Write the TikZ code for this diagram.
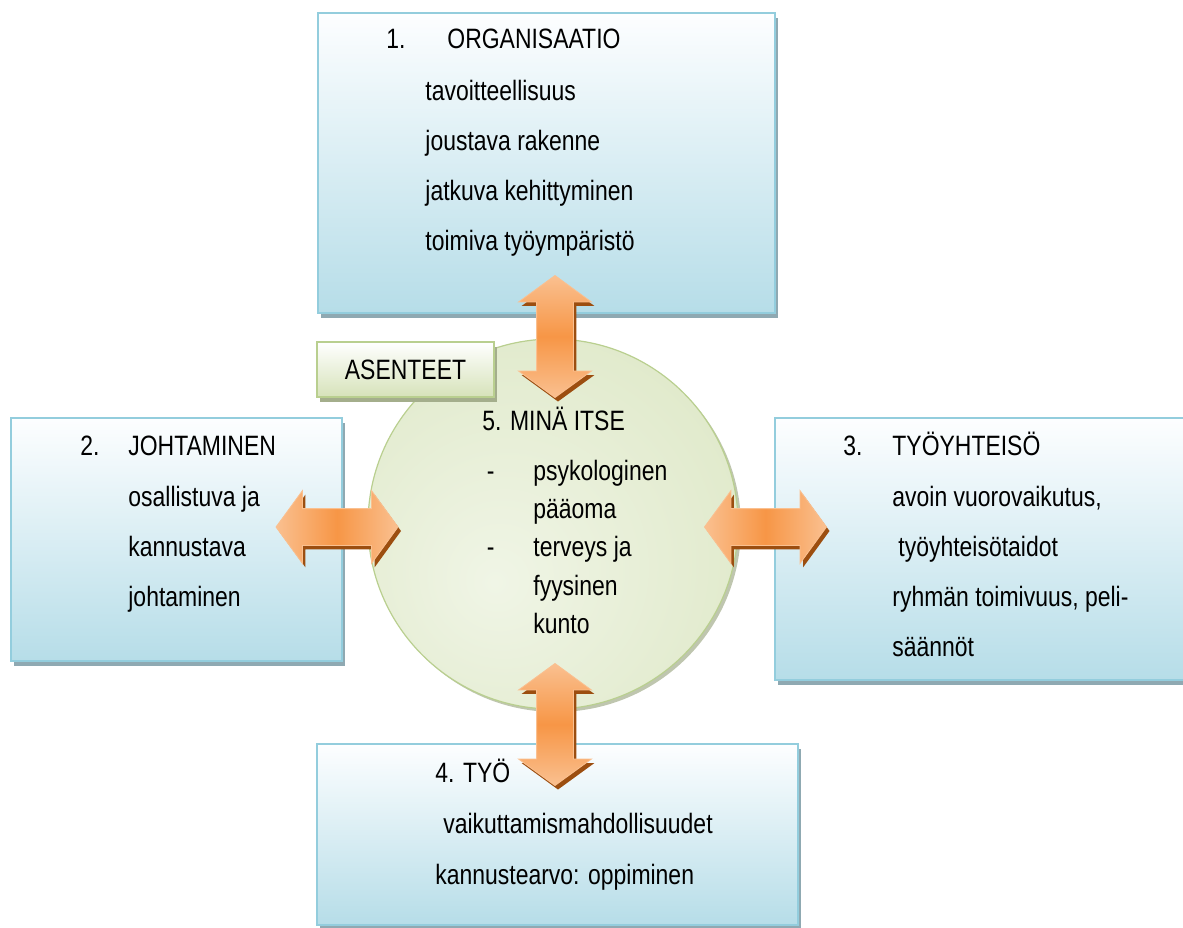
\documentclass[tikz,border=0pt]{standalone}
\usepackage{fontspec}
\setmainfont{Liberation Sans}[FakeStretch=0.82]
\usetikzlibrary{shapes.arrows,shadows}

\definecolor{boxtop}{HTML}{FDFEFF}
\definecolor{boxbottom}{HTML}{B6DDE8}
\definecolor{boxline}{HTML}{93CDDD}
\definecolor{boxshadow}{HTML}{8FA9B2}
\definecolor{greenlight}{HTML}{F0F5E6}
\definecolor{greendark}{HTML}{CCDBA8}
\definecolor{greenline}{HTML}{B9CF8F}
\definecolor{greenshadow}{HTML}{A4AE8C}
\definecolor{arroworange}{HTML}{F79646}
\definecolor{arrowlight}{HTML}{FAC090}
\definecolor{arrowshadow}{HTML}{9C4E10}

\pgfdeclareradialshading{minashading}{\pgfpoint{-8bp}{-8bp}}{color(0bp)=(greenlight); color(30bp)=(greenlight!60!greendark); color(58bp)=(greendark); color(70bp)=(greendark)}

\begin{document}
\begin{tikzpicture}[
    x=0.5pt, y=-0.5pt,
    box/.style={rectangle, draw=boxline, line width=1pt, top color=boxtop, bottom color=boxbottom,
        drop shadow={shadow xshift=1.5pt, shadow yshift=-2.5pt, fill=boxshadow, opacity=1}},
    greenbox/.style={rectangle, draw=greenline, line width=1pt, top color=white, bottom color=greendark!80,
        drop shadow={shadow xshift=1.5pt, shadow yshift=-2.5pt, fill=greenshadow, opacity=1}},
    dblarrow/.style={double arrow, double arrow head extend=9pt, double arrow tip angle=108,
        minimum height=61pt, inner xsep=9pt, inner ysep=9pt, draw=arrowlight, line width=0.4pt,
        drop shadow={shadow xshift=1.5pt, shadow yshift=-2pt, fill=arrowshadow, opacity=1}},
    harrow/.style={dblarrow, left color=arrowlight, right color=arrowlight, middle color=arroworange},
    varrow/.style={dblarrow, shape border rotate=90, top color=arrowlight, bottom color=arrowlight, middle color=arroworange},
    title/.style={anchor=base west, inner sep=0pt, font=\fontsize{14}{17}\selectfont},
    body/.style={anchor=north west, inner sep=0pt, align=left, font=\fontsize{14}{25}\selectfont}
]
\useasboundingbox (0,0) rectangle (1183,927);
\clip (0,0) rectangle (1183,927);

% Laatikot
\node[box, minimum width=228.5pt, minimum height=150pt] (org) at (546.5,163) {};
\node[box, minimum width=165.5pt, minimum height=121.5pt] (joht) at (176.5,539.5) {};
\node[box, minimum width=207.5pt, minimum height=131pt] (tyoy) at (982.5,549) {};
\node[box, minimum width=240.5pt, minimum height=90.5pt] (tyo) at (557.5,834.5) {};

% Minä itse
\node[circle, draw=greenline, line width=0.6pt, minimum size=185pt, inner sep=0pt, shading=minashading,
    drop shadow={shadow xshift=1.5pt, shadow yshift=-1.5pt, fill=greenshadow!70, opacity=1}] (mina) at (553,524) {};

% Asenteet
\node[greenbox, minimum width=88.5pt, minimum height=27.5pt, font=\fontsize{14}{17}\selectfont] (asenteet) at (405.5,369.5) {ASENTEET};

% Nuolet
\node[varrow] (orgarrow) at (555,336.5) {};
\node[varrow] (tyoarrow) at (555,724.5) {};
\node[harrow] (johtarrow) at (337,527) {};
\node[harrow] (tyoyarrow) at (765.5,527) {};

% 1. Organisaatio
\node[title] (orgtitle) at (386,48) {\makebox[30.5pt][l]{1.}ORGANISAATIO};
\node[body] (orgtext) at (425,65) {\strut tavoitteellisuus\\joustava rakenne\\jatkuva kehittyminen\\toimiva työympäristö};

% 2. Johtaminen
\node[title] (johttitle) at (80,455) {\makebox[24pt][l]{2.}JOHTAMINEN};
\node[body] (johttext) at (128,471) {\strut osallistuva ja\\kannustava\\johtaminen};

% 3. Työyhteisö
\node[title] (tyoytitle) at (843,455) {\makebox[24.5pt][l]{3.}TYÖYHTEISÖ};
\node[body] (tyoytext) at (892,471) {\strut avoin vuorovaikutus,\\\hspace*{3pt}työyhteisötaidot\\ryhmän toimivuus, peli-\\säännöt};

% 4. Työ
\node[title] (tyotitle) at (435,782) {4. TYÖ};
\node[body, font=\fontsize{14}{25.5}\selectfont] (tyotext) at (435,797) {\strut\hspace*{4pt}vaikuttamismahdollisuudet\\kannustearvo: oppiminen};

% 5. Minä itse
\node[title] (minatitle) at (482,430) {5. MINÄ ITSE};
\node[body, font=\fontsize{14}{19.1}\selectfont] (minatext) at (533,453.3) {\strut\llap{-\hspace{19.5pt}}psykologinen\\pääoma\\\llap{-\hspace{19.5pt}}terveys ja\\fyysinen\\kunto};

\end{tikzpicture}
\end{document}
